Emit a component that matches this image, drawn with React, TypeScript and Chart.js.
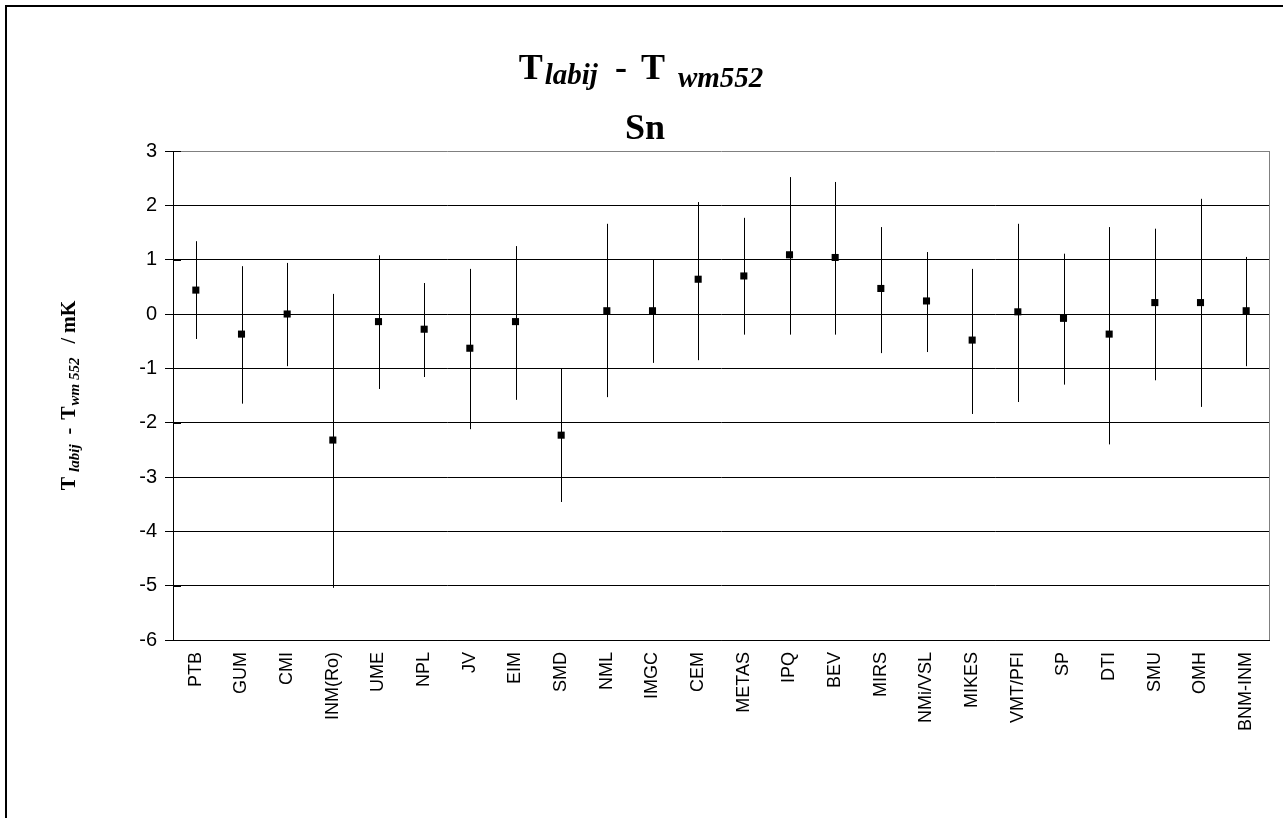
import React, { useEffect, useRef } from 'react';
import { Chart, registerables } from 'chart.js';
Chart.register(...registerables);

const labs = ['PTB', 'GUM', 'CMI', 'INM(Ro)', 'UME', 'NPL', 'JV', 'EIM', 'SMD', 'NML', 'IMGC', 'CEM', 'METAS', 'IPQ', 'BEV', 'MIRS', 'NMi/VSL', 'MIKES', 'VMT/PFI', 'SP', 'DTI', 'SMU', 'OMH', 'BNM-INM'];
const values = [0.44, -0.37, 0.0, -2.32, -0.14, -0.28, -0.63, -0.14, -2.23, 0.06, 0.06, 0.64, 0.70, 1.09, 1.04, 0.47, 0.24, -0.48, 0.04, -0.08, -0.37, 0.21, 0.21, 0.06];
const upper = [1.34, 0.88, 0.94, 0.37, 1.08, 0.57, 0.83, 1.25, -1.01, 1.66, 1.0, 2.06, 1.77, 2.52, 2.43, 1.60, 1.14, 0.83, 1.66, 1.11, 1.60, 1.57, 2.12, 1.05];
const lower = [-0.46, -1.65, -0.96, -5.04, -1.38, -1.16, -2.12, -1.58, -3.46, -1.53, -0.90, -0.85, -0.38, -0.38, -0.38, -0.72, -0.70, -1.84, -1.62, -1.30, -2.40, -1.22, -1.71, -0.96];
const yMin = -6;
const yMax = 3;

type Seg = { t: string; font: string; dy: number; gap: number };

const SERIF = '"Liberation Serif", "Times New Roman", serif';
const SANS = '"Liberation Sans", Arial, sans-serif';

function drawSegs(ctx: CanvasRenderingContext2D, segs: Seg[], cx: number, baseline: number) {
  let total = 0;
  segs.forEach((s) => {
    ctx.font = s.font;
    total += s.gap + ctx.measureText(s.t).width;
  });
  let x = cx - total / 2;
  segs.forEach((s) => {
    ctx.font = s.font;
    x += s.gap;
    ctx.fillText(s.t, x, baseline + s.dy);
    x += ctx.measureText(s.t).width;
  });
}

const titleSegs: Seg[] = [
  { t: 'T', font: `bold 36px ${SERIF}`, dy: 0, gap: 0 },
  { t: 'labij', font: `italic bold 29px ${SERIF}`, dy: 5, gap: 2 },
  { t: '-', font: `bold 36px ${SERIF}`, dy: 0, gap: 17 },
  { t: 'T', font: `bold 36px ${SERIF}`, dy: 0, gap: 14 },
  { t: 'wm552', font: `italic bold 29px ${SERIF}`, dy: 8, gap: 13 },
];

const yTitleSegs: Seg[] = [
  { t: 'T', font: `bold 20px ${SERIF}`, dy: 0, gap: 0 },
  { t: 'labij', font: `italic bold 15px ${SERIF}`, dy: 4, gap: 5 },
  { t: '-', font: `bold 20px ${SERIF}`, dy: 0, gap: 10 },
  { t: 'T', font: `bold 20px ${SERIF}`, dy: 0, gap: 8 },
  { t: 'wm 552', font: `italic bold 15px ${SERIF}`, dy: 4, gap: 1 },
  { t: '/ mK', font: `bold 20px ${SERIF}`, dy: 0, gap: 14 },
];

const errorBars = {
  id: 'errorBars',
  beforeDatasetsDraw(chart: any) {
    const { ctx, scales } = chart;
    const x = scales.x;
    const y = scales.y;
    ctx.save();
    ctx.strokeStyle = '#000';
    ctx.lineWidth = 1;
    labs.forEach((_, i) => {
      const px = Math.round(x.getPixelForValue(i)) + 0.5;
      ctx.beginPath();
      ctx.moveTo(px, y.getPixelForValue(upper[i]));
      ctx.lineTo(px, y.getPixelForValue(lower[i]));
      ctx.stroke();
    });
    ctx.restore();
  },
};

const decor = {
  id: 'decor',
  beforeDraw(chart: any) {
    const { ctx } = chart;
    ctx.save();
    ctx.fillStyle = '#fff';
    ctx.fillRect(0, 0, chart.width, chart.height);
    ctx.strokeStyle = '#000';
    ctx.lineWidth = 2;
    ctx.strokeRect(6, 6, chart.width + 20, chart.height + 20);
    ctx.restore();
  },
  afterDraw(chart: any) {
    const { ctx, chartArea, scales } = chart;
    const y = scales.y;
    ctx.save();
    ctx.strokeStyle = '#808080';
    ctx.lineWidth = 1;
    const rx = Math.round(chartArea.right) + 0.5;
    ctx.beginPath();
    ctx.moveTo(rx, chartArea.top);
    ctx.lineTo(rx, chartArea.bottom);
    ctx.stroke();
    ctx.strokeStyle = '#000';
    for (let v = yMin; v <= yMax; v++) {
      const py = Math.round(y.getPixelForValue(v)) + 0.5;
      ctx.beginPath();
      ctx.moveTo(chartArea.left, py);
      ctx.lineTo(chartArea.left + 8, py);
      ctx.stroke();
    }
    ctx.fillStyle = '#000';
    ctx.textAlign = 'left';
    ctx.textBaseline = 'alphabetic';
    drawSegs(ctx, titleSegs, 641, 79);
    drawSegs(ctx, [{ t: 'Sn', font: `bold 36px ${SERIF}`, dy: 0, gap: 0 }], 645, 139);
    ctx.translate(75, (chartArea.top + chartArea.bottom) / 2);
    ctx.rotate(-Math.PI / 2);
    drawSegs(ctx, yTitleSegs, 0, 0);
    ctx.restore();
  },
};

export default function App() {
  const ref = useRef<HTMLCanvasElement>(null);
  useEffect(() => {
    if (!ref.current) return;
    const chart = new Chart(ref.current, {
      type: 'line',
      data: {
        labels: labs,
        datasets: [
          {
            data: values,
            showLine: false,
            pointStyle: 'rect',
            pointRadius: 5,
            pointBorderWidth: 0,
            pointBackgroundColor: '#000',
            pointBorderColor: '#000',
          },
        ],
      },
      options: {
        responsive: false,
        animation: false,
        layout: { padding: { top: 151, right: 14, left: 0, bottom: 0 } },
        plugins: { legend: { display: false }, title: { display: false }, tooltip: { enabled: false } },
        scales: {
          x: {
            type: 'category',
            offset: true,
            grid: { display: false, drawTicks: false },
            border: { display: true, color: '#000', width: 1 },
            ticks: {
              minRotation: 90,
              maxRotation: 90,
              autoSkip: false,
              padding: 12,
              color: '#000',
              font: { family: SANS, size: 18 },
            },
            afterFit(scale: any) {
              scale.height = 178;
            },
          },
          y: {
            min: yMin,
            max: yMax,
            ticks: {
              stepSize: 1,
              padding: 8,
              color: '#000',
              font: { family: SANS, size: 20 },
            },
            grid: {
              color: (c: any) => (c.tick && c.tick.value === yMax ? '#808080' : '#000'),
              lineWidth: 1,
              tickLength: 8,
              tickColor: '#000',
            },
            border: { display: true, color: '#000', width: 1 },
            afterFit(scale: any) {
              scale.width = 173;
            },
          },
        },
      },
      plugins: [errorBars, decor],
    });
    return () => chart.destroy();
  }, []);
  return (
    <div style={{ position: 'absolute', left: 0, top: 0, width: 1283, height: 818 }}>
      <canvas ref={ref} width={1283} height={818} style={{ display: 'block' }} />
    </div>
  );
}
